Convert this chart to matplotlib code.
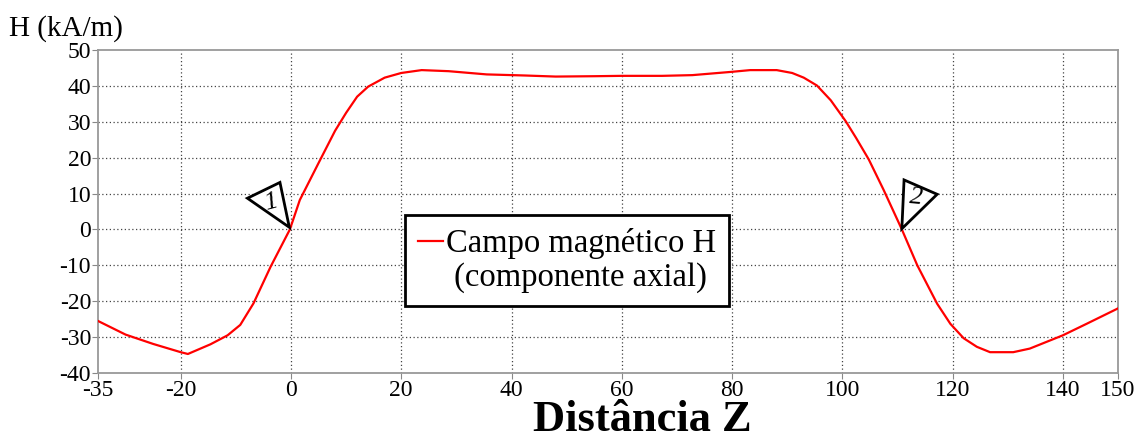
import matplotlib
matplotlib.use('Agg')
import matplotlib.pyplot as plt
from matplotlib.patches import Polygon
from matplotlib.lines import Line2D

# posição axial Z e campo magnético H (kA/m)
z = [-35, -30, -25, -20, -18.7, -14.6, -11.5, -9.2, -6.8, -3.7, -0.2, 1.6,
     5, 8, 10, 12, 14, 17, 20, 23.7, 28.6, 35.5, 42.4, 48, 55, 60, 67.3,
     72.8, 79.8, 83.3, 88.1, 90.9, 93, 95.4, 97.9, 100.6, 102.5, 104.8,
     107.5, 110.8, 113.6, 117.2, 119.6, 122, 124.4, 126.8, 131, 134, 140,
     144.3, 150]
h = [-25.5, -29.3, -31.9, -34.2, -34.7, -32.0, -29.5, -26.6, -20.6, -10.4,
     0, 8.2, 18.5, 27.5, 32.5, 37, 39.8, 42.3, 43.6, 44.4, 44.1, 43.2, 42.9,
     42.6, 42.7, 42.8, 42.8, 43.0, 43.9, 44.4, 44.4, 43.6, 42.3, 40.1, 36,
     30.2, 25.5, 19.5, 11, 0, -10, -20.7, -26.3, -30.3, -32.7, -34.2, -34.2,
     -33.2, -29.5, -26.3, -22]

xticks = [-35, -20, 0, 20, 40, 60, 80, 100, 120, 140, 150]
yticks = [-40, -30, -20, -10, 0, 10, 20, 30, 40, 50]

# marcadores triangulares dos pontos de cruzamento
marca1 = [(-7.9, 8.7), (-2.0, 13.1), (-0.3, 0.6)]
marca2 = [(111.2, 13.8), (117.2, 9.8), (110.8, 0.2)]

plt.rcParams['font.family'] = ['Liberation Serif', 'DejaVu Serif']
plt.rcParams['axes.unicode_minus'] = False

fig = plt.figure(figsize=(11.45, 4.41), dpi=100)
ax = fig.add_axes([0.0856, 0.1542, 0.8908, 0.7324])

linha, = ax.plot(z, h, color='red', lw=1.6, zorder=3)

ax.set_xlim(-35, 150)
ax.set_ylim(-40, 50)
ax.set_xticks(xticks)
ax.set_yticks(yticks)
ax.tick_params(labelsize=17, length=4, color='#888888', pad=1)

for x in xticks[1:-1]:
    ax.axvline(x, color='#444444', lw=0.9, ls=(0, (1, 2)), zorder=1)
for y in yticks[1:-1]:
    ax.axhline(y, color='#444444', lw=0.9, ls=(0, (1, 2)), zorder=1)

for s in ax.spines.values():
    s.set_color('#999999')
    s.set_linewidth(1.3)

for pts, txt, rot, pos in [(marca1, '1', 15, (-3.6, 7.4)), (marca2, '2', -5, (113.3, 8.8))]:
    ax.add_patch(Polygon(pts, closed=True, facecolor='white', edgecolor='black',
                         lw=2, zorder=4))
    ax.text(pos[0], pos[1], txt, fontsize=19, style='italic', rotation=rot,
            ha='center', va='center', zorder=5)

vazio = Line2D([], [], color='none')
leg = ax.legend([linha, vazio], ['Campo magnético H', ' (componente axial)'],
                loc='upper left', bbox_to_anchor=(0.301, 0.489), borderaxespad=0,
                fontsize=23.5, handlelength=0.75, handletextpad=0.1, fancybox=False,
                framealpha=1, borderpad=0.4, labelspacing=0.1)
leg.get_frame().set_edgecolor('black')
leg.get_frame().set_linewidth(2)

fig.text(0.008, 1 - 36 / 441, 'H (kA/m)', fontsize=21, va='baseline', ha='left')
fig.text(0.561, 0.022, 'Distância Z', fontsize=32, fontweight='bold',
         va='baseline', ha='center')

fig.savefig('out.png', dpi=100)
